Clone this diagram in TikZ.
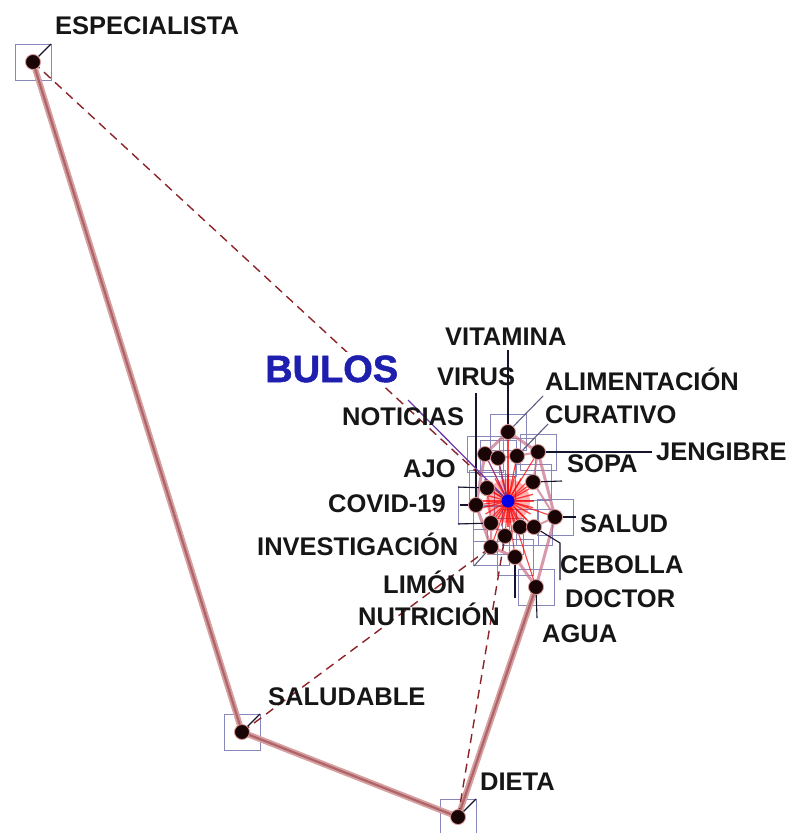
\documentclass[tikz,border=0pt]{standalone}
\usepackage{fontspec}
\setmainfont{Liberation Sans}
\newfontfamily\bulosfam[FakeBold=1.3]{Liberation Sans Bold}
\usetikzlibrary{backgrounds}
\definecolor{sqc}{RGB}{135,135,185}
\definecolor{dotc}{RGB}{25,5,5}
\definecolor{txt}{RGB}{22,22,22}
\definecolor{thickl}{RGB}{215,160,160}
\definecolor{thickd}{RGB}{175,100,105}
\definecolor{dashc}{RGB}{140,35,40}
\definecolor{leadc}{RGB}{20,20,45}
\definecolor{hullc}{RGB}{200,110,135}
\definecolor{bulosc}{RGB}{30,30,175}
\definecolor{purp}{RGB}{110,60,170}
\definecolor{halo}{RGB}{220,150,150}
\tikzset{
  sq/.style={draw=sqc, line width=0.8pt},
  dotn/.style={circle, fill=dotc, minimum size=15pt, inner sep=0pt, draw=halo, line width=0.8pt},
  cdot/.style={circle, fill={rgb,255:red,0;green,0;blue,230}, minimum size=13pt, inner sep=0pt},
  lbl/.style={anchor=base west, inner sep=0pt, font=\fontsize{25.5}{30}\selectfont\bfseries, text=txt},
  bulosfont/.style={font=\fontsize{38}{44}\bulosfam},
  thickpath/.style={line width=6pt, draw=thickl, line cap=round, line join=round},
  thickcore/.style={line width=2.2pt, draw=thickd, line cap=round, line join=round},
  dashr/.style={dash pattern=on 9pt off 6pt, line width=1.4pt, draw=dashc},
  leader/.style={line width=1.1pt, draw=leadc},
  radial/.style={line width=1.1pt, draw=red, opacity=0.75},
  hull/.style={line width=3pt, draw=hullc, opacity=0.7, line join=round},
}
\begin{document}
\begin{tikzpicture}[x=1pt,y=-1pt]
\useasboundingbox (0,0) rectangle (788,833);
% ---------- dots ----------
\node[dotn] (esp) at (33,62) {};
\node[dotn] (sal) at (242,732) {};
\node[dotn] (die) at (458,817) {};
\node[dotn] (n1) at (508,432) {};
\node[dotn] (n2) at (485,454) {};
\node[dotn] (n3) at (498,458) {};
\node[dotn] (n4) at (517,456) {};
\node[dotn] (n5) at (538,452) {};
\node[dotn] (n6) at (487,488) {};
\node[dotn] (n7) at (533,482) {};
\node[dotn] (n8) at (476,505) {};
\node[dotn] (n9) at (555,517) {};
\node[dotn] (n10) at (491,523) {};
\node[dotn] (n11) at (520,527) {};
\node[dotn] (n12) at (534,527) {};
\node[dotn] (n13) at (505,536) {};
\node[dotn] (n14) at (491,547) {};
\node[dotn] (n15) at (515,557) {};
\node[dotn] (n16) at (536,587) {};
\node[cdot] (c) at (508,501) {};
% ---------- leader end points ----------
\coordinate (lVIT) at (508,350);
\coordinate (lVIR) at (476,393);
\coordinate (lALI) at (543,396);
\coordinate (lCUR) at (548,424);
\coordinate (lJEN) at (652,452);
\coordinate (lSOP) at (562,481);
\coordinate (lNOT) at (408,400);
\coordinate (lAJO) at (458,487);
\coordinate (lCOV) at (460,505);
\coordinate (lINV) at (458,524);
\coordinate (lLIM) at (474,566);
\coordinate (lNUT) at (515,598);
\coordinate (lCEBa) at (560,543);
\coordinate (lCEBb) at (560,580);
\coordinate (lSLD) at (576,517);
\coordinate (lAGU) at (537,618);
\begin{scope}[on background layer]
  % squares
  \foreach \n in {esp,sal,die,n1,n2,n3,n4,n5,n6,n7,n8,n9,n10,n11,n12,n13,n14,n15,n16}
    \draw[sq] (\n.center) ++(-18,-18) rectangle ++(36,36);
  % thick main path
  \draw[thickpath] (esp.center) -- (sal.center) -- (die.center) -- (n16.center);
  \draw[thickcore] (esp.center) -- (sal.center) -- (die.center) -- (n16.center);
  % cluster hull
  \draw[hull] (n16.center) -- (n9.center) -- (n5.center) -- (n1.center) -- (n2.center)
     -- (n8.center) -- (n14.center) -- (n15.center) -- (n16.center);
  \draw[hull, line width=2pt] (n5.center) -- (n7.center) -- (n9.center);
  \draw[hull, line width=2pt] (n2.center) -- (n3.center) -- (n4.center) -- (n5.center);
  \draw[hull, line width=2pt] (n10.center) -- (n13.center) -- (n11.center) -- (n12.center) -- (n9.center);
  \draw[hull, line width=2pt] (n6.center) -- (n10.center) -- (n14.center);
  % red glow and radial spikes
  \fill[red, opacity=0.3] (c.center) circle (22pt);
  \foreach \a in {0,15,...,345}
    \draw[red, opacity=0.7, line width=1.3pt] (c.center) -- ++(\a:26);
  \foreach \n in {n1,n2,n3,n4,n5,n6,n7,n8,n9,n10,n11,n12,n13,n14,n15,n16}
    \draw[radial] (c.center) -- (\n.center);
  \draw[purp, line width=1pt, opacity=0.7] (c.center) -- (n2.center);
  \draw[purp, line width=1pt, opacity=0.7] (c.center) -- (n3.center);
  % dashed links
  \draw[dashr] (esp.center) -- (c.center);
  \draw[dashr] (sal.center) -- (n14.center);
  \draw[dashr] (die.center) -- (n13.center);
  % leaders
  \draw[leader] (esp.center) -- ++(18,-18);
  \draw[leader] (sal.center) -- ++(18,-18);
  \draw[leader] (die.center) -- ++(18,-18);
  \draw[leader] (n1.center) -- (lVIT);
  \draw[leader] (n8.center) -- (lVIR);
  \draw[leader, draw=sqc!70!black] (n1.center) -- (lALI);
  \draw[leader, draw=sqc!70!black] (n4.center) -- (lCUR);
  \draw[leader] (n5.center) -- (lJEN);
  \draw[leader] (n7.center) -- (lSOP);
  \draw[purp, line width=1.3pt] (lNOT) -- (c.center);
  \draw[leader] (lAJO) -- (n6.center);
  \draw[leader] (lCOV) -- (n8.center);
  \draw[leader] (lINV) -- (n10.center);
  \draw[leader, draw=sqc!70!black] (lLIM) -- (n14.center);
  \draw[leader] (n15.center) -- (lNUT);
  \draw[leader] (n12.center) -- (lCEBa) -- (lCEBb);
  \draw[leader] (n9.center) -- (lSLD);
  \draw[leader] (n16.center) -- (lAGU);
\end{scope}
% ---------- labels ----------
\node[bulosfont, anchor=base west, inner sep=3pt, fill=white, text=bulosc] (bulos) at (262,382) {BULOS};
\node[lbl] (tESP) at (55,34) {ESPECIALISTA};
\node[lbl] (tVIT) at (445,345) {VITAMINA};
\node[lbl] (tVIR) at (437,385) {VIRUS};
\node[lbl] (tALI) at (545,390) {ALIMENTACIÓN};
\node[lbl] (tNOT) at (342,425) {NOTICIAS};
\node[lbl] (tCUR) at (545,423) {CURATIVO};
\node[lbl] (tJEN) at (656,460) {JENGIBRE};
\node[lbl] (tAJO) at (403,477) {AJO};
\node[lbl] (tSOP) at (567,472) {SOPA};
\node[lbl] (tCOV) at (328,512) {COVID-19};
\node[lbl] (tSLD) at (580,532) {SALUD};
\node[lbl] (tINV) at (257,555) {INVESTIGACIÓN};
\node[lbl] (tCEB) at (560,573) {CEBOLLA};
\node[lbl] (tLIM) at (383,593) {LIMÓN};
\node[lbl] (tDOC) at (565,607) {DOCTOR};
\node[lbl] (tNUT) at (358,625) {NUTRICIÓN};
\node[lbl] (tAGU) at (542,642) {AGUA};
\node[lbl] (tSAL) at (268,705) {SALUDABLE};
\node[lbl] (tDIE) at (480,790) {DIETA};
\end{tikzpicture}
\end{document}
